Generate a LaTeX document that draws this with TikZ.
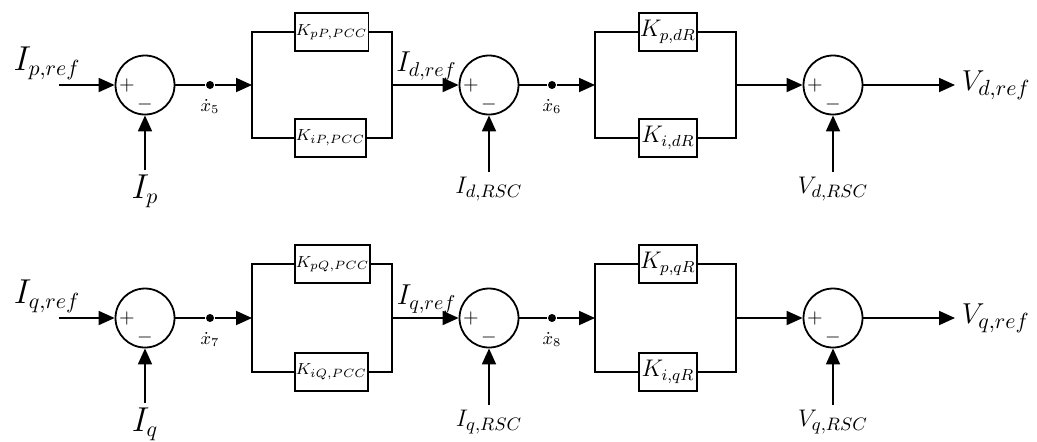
\documentclass[tikz,border=0pt]{standalone}
\usetikzlibrary{arrows.meta, positioning}

\begin{document}
\begin{tikzpicture}[
    x=1pt, y=1pt,
    node distance=2pt,
    line width=0.9pt,
    sum/.style={circle, draw, minimum size=29.5pt, inner sep=0pt},
    box/.style={rectangle, draw, minimum width=29pt, minimum height=19pt, inner sep=0.5pt},
    dot/.style={circle, fill, inner sep=0pt, minimum size=4pt},
    sgn/.style={inner sep=0pt, font=\fontsize{10}{11}\selectfont},
    biglbl/.style={inner sep=1pt, font=\fontsize{16}{18}\selectfont},
    outlbl/.style={inner sep=1pt, font=\fontsize{15}{17}\selectfont},
    refl/.style={inner sep=1pt, font=\fontsize{14}{16}\selectfont},
    rsclbl/.style={inner sep=1pt, font=\fontsize{13}{15}\selectfont},
    klbl/.style={font=\fontsize{12}{14}\selectfont},
    pcclbl/.style={font=\fontsize{8.5}{10}\selectfont},
    xlbl/.style={inner sep=0.5pt, font=\fontsize{9}{10}\selectfont},
    >={Triangle[length=8pt, width=7pt]}
]
\useasboundingbox (0,0) rectangle (518.5,-220.5);

% d-axis loop
\coordinate (in1) at (29.5,-42.5);
\node[sum] (s1) at (72.5,-42.5) {};
\node[sgn] (s1p) at ([xshift=-9pt]s1.center) {$+$};
\node[sgn] (s1m) at ([yshift=-9.5pt]s1.center) {$-$};
\coordinate (fb1) at (72.5,-85);
\node[dot] (d1) at (105,-42.5) {};
\coordinate (sp1) at (126,-42.5);
\node[box, pcclbl, above right=16.5pt and 21pt of sp1] (kp1) {$K_{pP,PCC}$};
\node[box, pcclbl, below right=16.5pt and 21pt of sp1] (ki1) {$K_{iP,PCC}$};
\coordinate (jn1) at (196,-42.5);
\node[sum] (s2) at (244.5,-42.5) {};
\node[sgn] (s2p) at ([xshift=-9pt]s2.center) {$+$};
\node[sgn] (s2m) at ([yshift=-9.5pt]s2.center) {$-$};
\coordinate (fb2) at (244.5,-86);
\node[dot] (d2) at (276,-42.5) {};
\coordinate (sp2) at (297.5,-42.5);
\node[box, klbl, above right=16.5pt and 21.5pt of sp2] (kp2) {$K_{p,dR}$};
\node[box, klbl, below right=16.5pt and 21.5pt of sp2] (ki2) {$K_{i,dR}$};
\coordinate (jn2) at (368,-42.5);
\node[sum] (s3) at (416.5,-42.5) {};
\node[sgn] (s3p) at ([xshift=-9pt]s3.center) {$+$};
\node[sgn] (s3m) at ([yshift=-9.5pt]s3.center) {$-$};
\coordinate (fb3) at (416.5,-86);
\coordinate (out1) at (477.5,-42.5);

\node[biglbl, above=1pt of in1, xshift=-6pt] (l_ipref) {$I_{p,ref}$};
\node[biglbl, below=1pt of fb1] (l_ip) {$I_p$};
\node[xlbl, below=4pt of d1] (l_x5) {$\dot{x}_5$};
\node[refl, above=1pt of s2.west, xshift=-16pt] (l_idref) {$I_{d,ref}$};
\node[rsclbl, below=1pt of fb2] (l_idrsc) {$I_{d,RSC}$};
\node[xlbl, below=4pt of d2] (l_x6) {$\dot{x}_6$};
\node[rsclbl, below=1pt of fb3] (l_vdrsc) {$V_{d,RSC}$};
\node[outlbl, right=2pt of out1] (l_vdref) {$V_{d,ref}$};

\draw[->] (in1) -- (s1);
\draw[->] (fb1) -- (s1);
\draw (s1) -- (d1);
\draw[->] (d1) -- (sp1);
\draw (kp1.west) -| (sp1) |- (ki1.west);
\draw (kp1.east) -| (jn1) |- (ki1.east);
\draw[->] (jn1) -- (s2);
\draw[->] (fb2) -- (s2);
\draw (s2) -- (d2);
\draw[->] (d2) -- (sp2);
\draw (kp2.west) -| (sp2) |- (ki2.west);
\draw (kp2.east) -| (jn2) |- (ki2.east);
\draw[->] (jn2) -- (s3);
\draw[->] (fb3) -- (s3);
\draw[->] (s3) -- (out1);

% q-axis loop
\coordinate (in2) at (29.5,-159);
\node[sum] (s4) at (72.5,-159) {};
\node[sgn] (s4p) at ([xshift=-9pt]s4.center) {$+$};
\node[sgn] (s4m) at ([yshift=-9.5pt]s4.center) {$-$};
\coordinate (fb4) at (72.5,-201.5);
\node[dot] (d3) at (105,-159) {};
\coordinate (sp3) at (126,-159);
\node[box, pcclbl, above right=17pt and 21pt of sp3] (kp3) {$K_{pQ,PCC}$};
\node[box, pcclbl, below right=17pt and 21pt of sp3] (ki3) {$K_{iQ,PCC}$};
\coordinate (jn3) at (196,-159);
\node[sum] (s5) at (244.5,-159) {};
\node[sgn] (s5p) at ([xshift=-9pt]s5.center) {$+$};
\node[sgn] (s5m) at ([yshift=-9.5pt]s5.center) {$-$};
\coordinate (fb5) at (244.5,-202.5);
\node[dot] (d4) at (276,-159) {};
\coordinate (sp4) at (297.5,-159);
\node[box, klbl, above right=17pt and 21.5pt of sp4] (kp4) {$K_{p,qR}$};
\node[box, klbl, below right=17pt and 21.5pt of sp4] (ki4) {$K_{i,qR}$};
\coordinate (jn4) at (368,-159);
\node[sum] (s6) at (416.5,-159) {};
\node[sgn] (s6p) at ([xshift=-9pt]s6.center) {$+$};
\node[sgn] (s6m) at ([yshift=-9.5pt]s6.center) {$-$};
\coordinate (fb6) at (416.5,-202.5);
\coordinate (out2) at (477.5,-159);

\node[biglbl, above=1pt of in2, xshift=-6pt] (l_iqref) {$I_{q,ref}$};
\node[biglbl, below=1pt of fb4] (l_iq) {$I_q$};
\node[xlbl, below=4pt of d3] (l_x7) {$\dot{x}_7$};
\node[refl, above=1pt of s5.west, xshift=-16pt] (l_iqref2) {$I_{q,ref}$};
\node[rsclbl, below=1pt of fb5] (l_iqrsc) {$I_{q,RSC}$};
\node[xlbl, below=4pt of d4] (l_x8) {$\dot{x}_8$};
\node[rsclbl, below=1pt of fb6] (l_vqrsc) {$V_{q,RSC}$};
\node[outlbl, right=2pt of out2] (l_vqref) {$V_{q,ref}$};

\draw[->] (in2) -- (s4);
\draw[->] (fb4) -- (s4);
\draw (s4) -- (d3);
\draw[->] (d3) -- (sp3);
\draw (kp3.west) -| (sp3) |- (ki3.west);
\draw (kp3.east) -| (jn3) |- (ki3.east);
\draw[->] (jn3) -- (s5);
\draw[->] (fb5) -- (s5);
\draw (s5) -- (d4);
\draw[->] (d4) -- (sp4);
\draw (kp4.west) -| (sp4) |- (ki4.west);
\draw (kp4.east) -| (jn4) |- (ki4.east);
\draw[->] (jn4) -- (s6);
\draw[->] (fb6) -- (s6);
\draw[->] (s6) -- (out2);

\end{tikzpicture}
\end{document}
